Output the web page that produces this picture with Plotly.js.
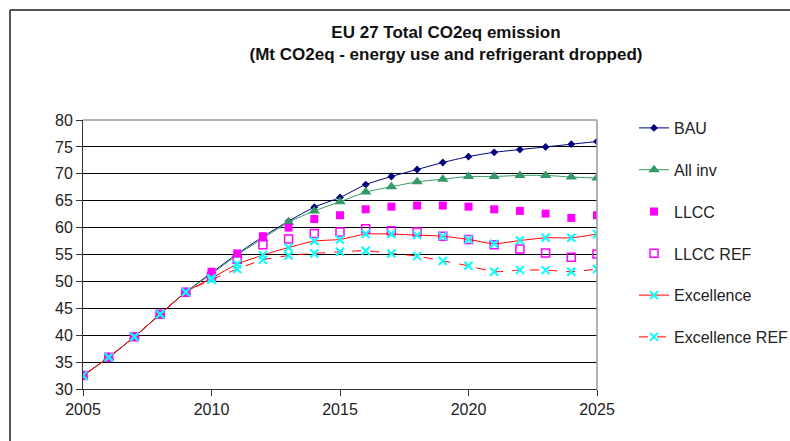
<!DOCTYPE html>
<html>
<head>
<meta charset="utf-8">
<script src="https://cdn.plot.ly/plotly-3.0.1.min.js"></script>
<style>html,body{margin:0;padding:0;background:#fff;}#chart{width:790px;height:441px;}</style>
</head>
<body>
<div id="chart"></div>
<script>
const years = [2005,2006,2007,2008,2009,2010,2011,2012,2013,2014,2015,2016,2017,2018,2019,2020,2021,2022,2023,2024,2025];
const bau        = [32.5,35.9,39.7,43.9,48.0,51.6,55.1,58.3,61.2,63.8,65.6,68.0,69.5,70.8,72.1,73.2,74.0,74.5,75.0,75.5,76.0];
const allInv     = [32.5,35.9,39.7,43.9,48.0,51.4,54.9,58.0,61.0,63.1,64.8,66.6,67.6,68.5,69.0,69.5,69.5,69.7,69.7,69.4,69.2];
const llcc       = [32.5,35.9,39.7,43.9,48.0,51.8,55.2,58.4,60.0,61.6,62.3,63.4,63.9,64.1,64.1,63.9,63.4,63.1,62.6,61.8,62.3];
const llccRef    = [32.5,35.9,39.7,43.9,48.0,50.9,54.1,56.8,57.9,58.9,59.2,59.8,59.4,59.2,58.4,57.8,56.8,56.0,55.3,54.5,55.1];
const excellence = [32.5,35.9,39.7,43.9,48.0,50.6,53.2,54.9,56.3,57.5,57.8,58.8,58.8,58.6,58.4,57.8,57.0,57.6,58.1,58.1,58.8];
const excelRef   = [32.5,35.9,39.7,43.9,48.0,50.3,52.3,54.0,54.8,55.2,55.5,55.7,55.2,54.7,53.8,52.9,51.8,52.1,52.1,51.8,52.3];
const names = ['BAU','All inv','LLCC','LLCC REF','Excellence','Excellence REF'];
const xTicks = [2005,2010,2015,2020,2025];
const yTicks = [30,35,40,45,50,55,60,65,70,75,80];

const cyanX = {symbol:'x-thin', size:8, color:'#00FFFF', line:{color:'#00FFFF', width:2}};
const traces = [
  {x:years, y:bau, name:names[0], mode:'lines+markers', line:{color:'#000080', width:1, shape:'spline', smoothing:0.6},
   marker:{symbol:'diamond', size:6, color:'#000080'}},
  {x:years, y:allInv, name:names[1], mode:'lines+markers', line:{color:'#339966', width:1, shape:'spline', smoothing:0.6},
   marker:{symbol:'triangle-up', size:10, color:'#339966'}},
  {x:years, y:llcc, name:names[2], mode:'markers', marker:{symbol:'square', size:8, color:'#FF00FF'}},
  {x:years, y:llccRef, name:names[3], mode:'markers', marker:{symbol:'square-open', size:8, color:'#FF00FF', line:{width:1.5}}},
  {x:years, y:excellence, name:names[4], mode:'lines+markers', line:{color:'#FF0000', width:1, shape:'spline', smoothing:0.6}, marker:cyanX},
  {x:years, y:excelRef, name:names[5], mode:'lines+markers', line:{color:'#FF0000', width:1, dash:'dash', shape:'spline', smoothing:0.6}, marker:cyanX}
];
traces.forEach((t,i)=>{t.legendgroup='g'+i;});

const font = 'Liberation Sans, Arial, sans-serif';
const layout = {
  width:790, height:441,
  margin:{l:83, r:193, t:120, b:52, pad:0, autoexpand:false},
  paper_bgcolor:'#fff', plot_bgcolor:'#fff',
  font:{family:font, size:16, color:'#222'},
  title:{text:'<b>EU 27 Total CO2eq emission</b><br><b>(Mt CO2eq - energy use and refrigerant dropped)</b>',
    x:446/790, xref:'container', xanchor:'center', y:1-38/441, yref:'container', yanchor:'top',
    font:{family:font, size:17, color:'#111'}},
  xaxis:{range:[2005,2025], tickvals:xTicks, ticktext:xTicks.map(String), showgrid:false, zeroline:false,
    showline:true, linecolor:'#333', linewidth:1, ticks:'outside', ticklen:6, tickcolor:'#333',
    tickfont:{family:font, size:16, color:'#222'}, fixedrange:true, automargin:false},
  yaxis:{range:[30,80], tickvals:yTicks, ticktext:yTicks.map(String), showgrid:true, gridcolor:'#000', gridwidth:1,
    zeroline:false, showline:true, linecolor:'#333', linewidth:1, ticks:'outside', ticklen:6, tickcolor:'#333',
    tickfont:{family:font, size:16, color:'#222'}, fixedrange:true, automargin:false},
  showlegend:true,
  legend:{x:(634-83)/514, xanchor:'left', y:(389-111)/269, yanchor:'top', traceorder:'grouped', tracegroupgap:18,
    maxheight:420,
    font:{family:font, size:16, color:'#222'}, bgcolor:'rgba(0,0,0,0)'},
  shapes:[
    {type:'line', xref:'paper', yref:'paper', x0:0, x1:1, y0:1, y1:1, line:{color:'#999', width:1.5}},
    {type:'line', xref:'paper', yref:'paper', x0:1, x1:1, y0:0, y1:1, line:{color:'#999', width:1.5}},
    {type:'line', xref:'paper', yref:'paper', x0:-73/514, x1:707/514, y0:1+110/269, y1:1+110/269, line:{color:'#555', width:2}},
    {type:'line', xref:'paper', yref:'paper', x0:-73/514, x1:-73/514, y0:1+110/269, y1:-52/269, line:{color:'#555', width:2}}
  ]
};
Plotly.newPlot('chart', traces, layout, {displayModeBar:false, staticPlot:true});
</script>
</body>
</html>
